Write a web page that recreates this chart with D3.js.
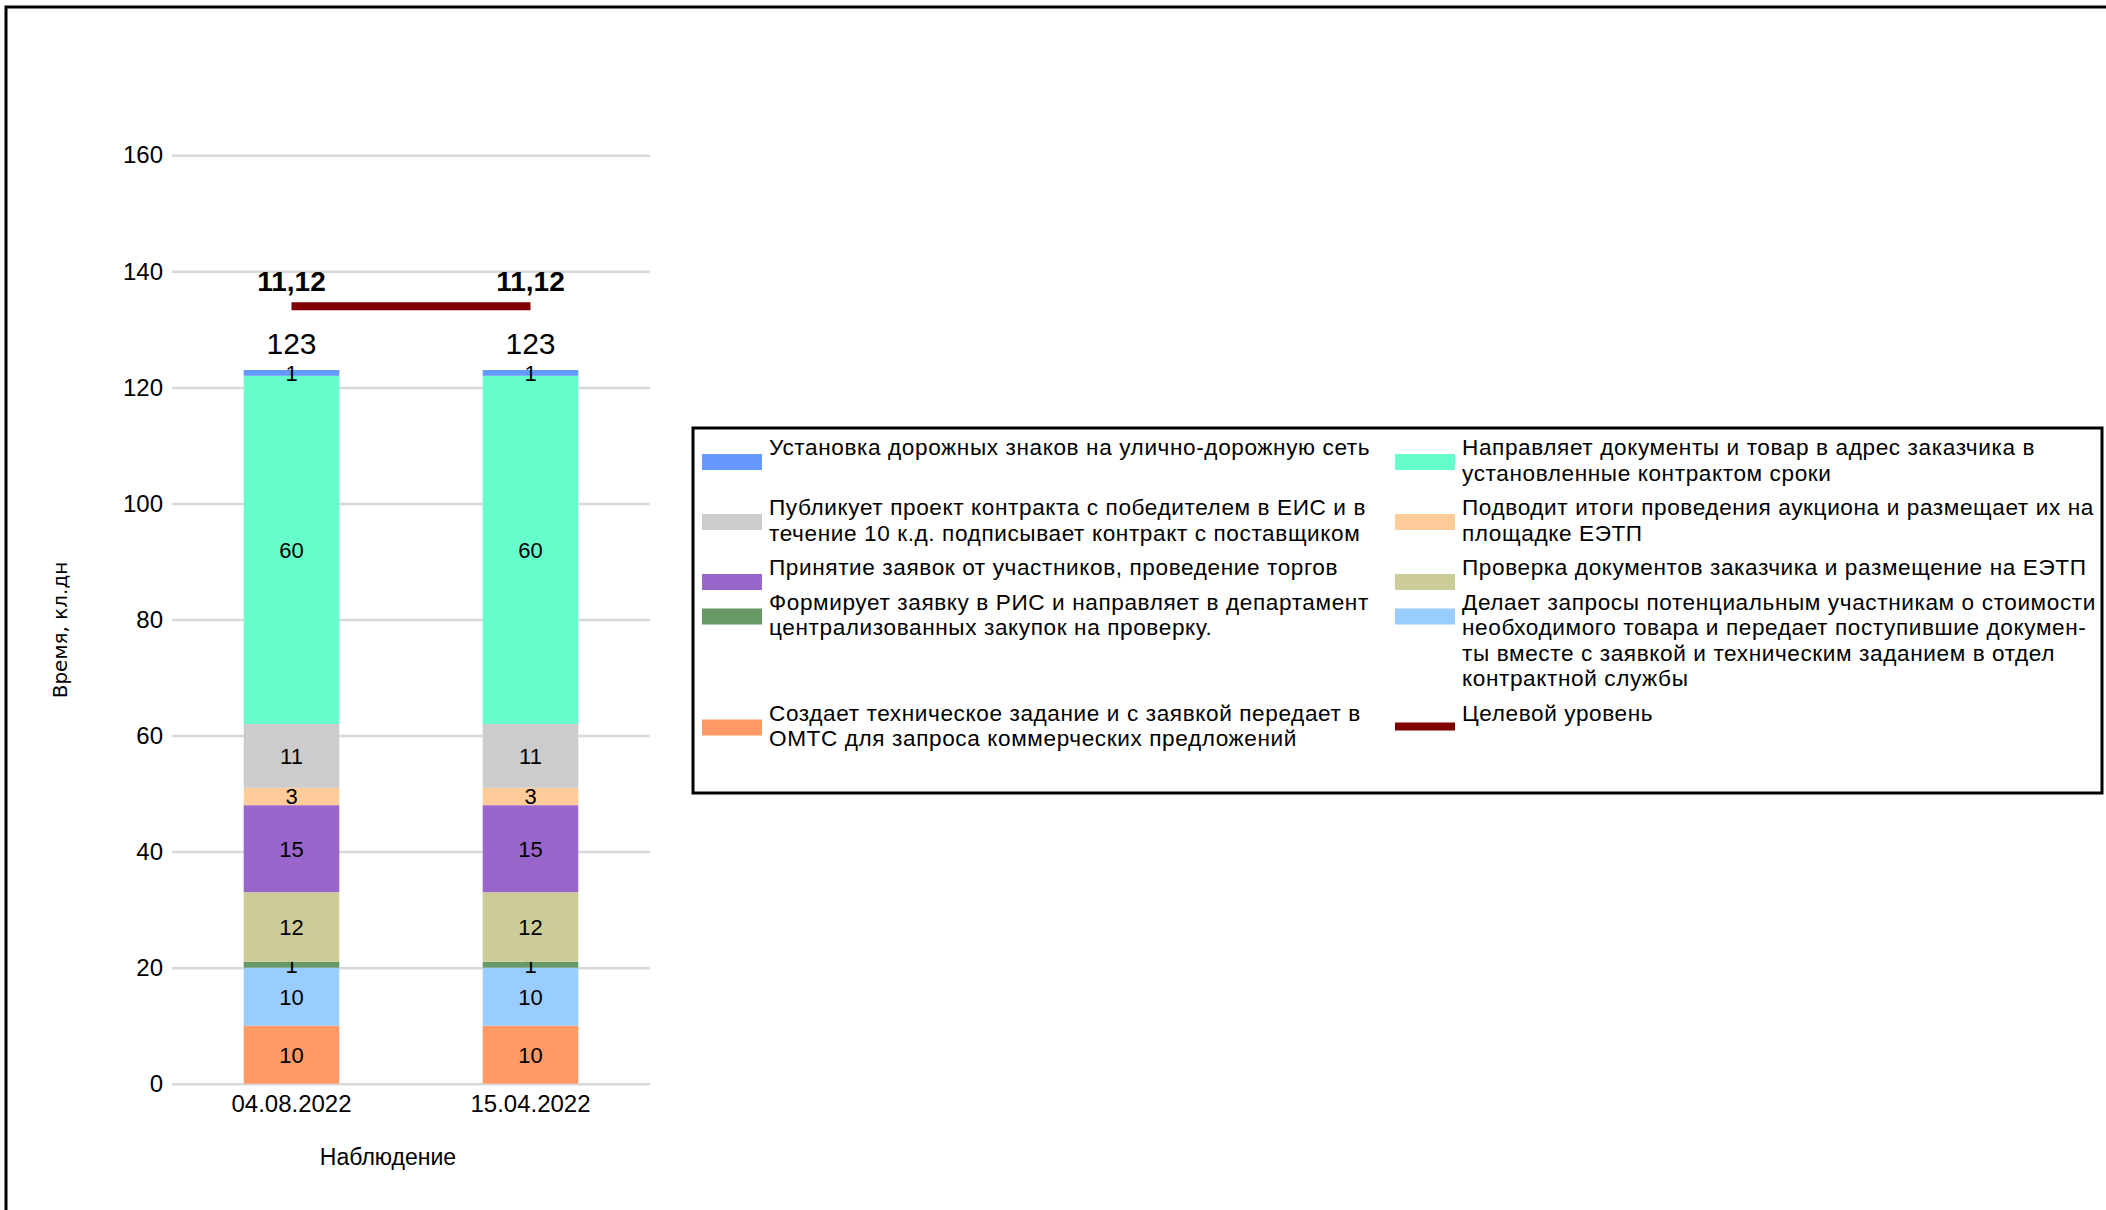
<!DOCTYPE html>
<html>
<head>
<meta charset="utf-8">
<script src="https://cdn.jsdelivr.net/npm/d3@7"></script>
<style>
  body { margin: 0; background: #fff; }
  text { font-family: 'Liberation Sans', Arial, sans-serif; fill: #000; }
</style>
</head>
<body>
<div id="chart"></div>
<script>
const w = 2106;
const h = 1210;

// data, bottom of the stack first
const categories = ["04.08.2022", "15.04.2022"];
const seriesNames = [
  "Создает техническое задание и с заявкой передает в\nОМТС для запроса коммерческих предложений",
  "Делает запросы потенциальным участникам о стоимости\nнеобходимого товара и передает поступившие докумен-\nты вместе с заявкой и техническим заданием в отдел\nконтрактной службы",
  "Формирует заявку в РИС и направляет в департамент\nцентрализованных закупок на проверку.",
  "Проверка документов заказчика и размещение на ЕЭТП",
  "Принятие заявок от участников, проведение торгов",
  "Подводит итоги проведения аукциона и размещает их на\nплощадке ЕЭТП",
  "Публикует проект контракта с победителем в ЕИС и в\nтечение 10 к.д. подписывает контракт с поставщиком",
  "Направляет документы и товар в адрес заказчика в\nустановленные контрактом сроки",
  "Установка дорожных знаков на улично-дорожную сеть"
];
const seriesValues = [
  [10, 10],
  [10, 10],
  [1, 1],
  [12, 12],
  [15, 15],
  [3, 3],
  [11, 11],
  [60, 60],
  [1, 1]
];
const seriesColors = ["#ff9966", "#99ccff", "#669966", "#cccc99", "#9966cc", "#ffcc99", "#cccccc", "#66ffcc", "#6699ff"];
const targetName = "Целевой уровень";
const targetValues = [134, 134];
const targetLabels = ["11,12", "11,12"];
const yTicks = [0, 20, 40, 60, 80, 100, 120, 140, 160];
const xTitle = "Наблюдение";
const yTitle = "Время, кл.дн";

const plot = { left: 172, right: 650, top: 155.3, bottom: 1083.7 };
const font = "'Liberation Sans', Arial, sans-serif";

const svg = d3.select("#chart")
  .append("svg")
  .attr("width", w)
  .attr("height", h);

// outer frame (runs off the right and bottom edges)
svg.append("rect")
  .attr("x", 6).attr("y", 7)
  .attr("width", w + 50).attr("height", h + 50)
  .attr("fill", "none")
  .attr("stroke", "#000")
  .attr("stroke-width", 3);

const xScale = d3.scaleBand()
  .domain(categories)
  .range([plot.left, plot.right])
  .paddingInner(0.6)
  .paddingOuter(0.3);

const yScale = d3.scaleLinear()
  .domain([0, 160])
  .range([plot.bottom, plot.top]);

// y axis with gridlines
const yAxis = d3.axisLeft(yScale)
  .tickValues(yTicks)
  .tickSize(-(plot.right - plot.left))
  .tickPadding(9);

const yg = svg.append("g")
  .attr("transform", "translate(" + plot.left + ",0)")
  .call(yAxis);
yg.select(".domain").remove();
yg.selectAll(".tick line").attr("stroke", "#d9d9d9").attr("stroke-width", 2.5);
yg.selectAll(".tick text")
  .attr("font-family", font)
  .attr("font-size", 24)
  .attr("fill", "#000");

// x axis labels
const xAxis = d3.axisBottom(xScale).tickSize(0).tickPadding(11);
const xg = svg.append("g")
  .attr("transform", "translate(0," + plot.bottom + ")")
  .call(xAxis);
xg.select(".domain").remove();
xg.selectAll(".tick text")
  .attr("font-family", font)
  .attr("font-size", 24)
  .attr("fill", "#000");

// stacked bars
const rows = categories.map((c, i) => ({ cat: c, values: seriesValues.map(s => s[i]) }));
const stack = d3.stack()
  .keys(d3.range(seriesNames.length))
  .value((d, k) => d.values[k]);
const layers = stack(rows);

const layer = svg.selectAll("g.layer")
  .data(layers)
  .enter()
  .append("g")
  .attr("class", "layer")
  .attr("fill", d => seriesColors[d.key]);

layer.selectAll("rect")
  .data(d => d)
  .enter()
  .append("rect")
  .attr("x", d => xScale(d.data.cat))
  .attr("width", xScale.bandwidth())
  .attr("y", d => yScale(d[1]))
  .attr("height", d => yScale(d[0]) - yScale(d[1]));

layer.selectAll("text")
  .data(d => d)
  .enter()
  .append("text")
  .attr("x", d => xScale(d.data.cat) + xScale.bandwidth() / 2)
  .attr("y", d => yScale((d[0] + d[1]) / 2))
  .attr("dy", "0.36em")
  .attr("text-anchor", "middle")
  .attr("font-size", 22)
  .text(d => d[1] - d[0]);

// totals
const totals = rows.map(r => d3.sum(r.values));
svg.selectAll("text.total")
  .data(rows)
  .enter()
  .append("text")
  .attr("class", "total")
  .attr("x", d => xScale(d.cat) + xScale.bandwidth() / 2)
  .attr("y", (d, i) => yScale(totals[i]) - 16)
  .attr("text-anchor", "middle")
  .attr("font-size", 30)
  .text((d, i) => totals[i]);

// target level
const lineGen = d3.line()
  .x((d, i) => xScale(categories[i]) + xScale.bandwidth() / 2)
  .y(d => yScale(d));

svg.append("path")
  .datum(targetValues)
  .attr("d", lineGen)
  .attr("fill", "none")
  .attr("stroke", "#800000")
  .attr("stroke-width", 8);

svg.selectAll("text.target")
  .data(targetValues)
  .enter()
  .append("text")
  .attr("class", "target")
  .attr("x", (d, i) => xScale(categories[i]) + xScale.bandwidth() / 2)
  .attr("y", d => yScale(d) - 15)
  .attr("text-anchor", "middle")
  .attr("font-size", 28)
  .attr("font-weight", "bold")
  .text((d, i) => targetLabels[i]);

// axis titles
svg.append("text")
  .attr("x", 388)
  .attr("y", 1165)
  .attr("text-anchor", "middle")
  .attr("font-size", 23)
  .text(xTitle);

svg.append("text")
  .attr("transform", "translate(67,630) rotate(-90)")
  .attr("text-anchor", "middle")
  .style("font-family", "'DejaVu Sans', sans-serif")
  .attr("font-size", 20)
  .text(yTitle);

// legend
const legendBox = { x: 693, y: 428, w: 1409, h: 365 };
svg.append("rect")
  .attr("x", legendBox.x).attr("y", legendBox.y)
  .attr("width", legendBox.w).attr("height", legendBox.h)
  .attr("fill", "#fff")
  .attr("stroke", "#000")
  .attr("stroke-width", 3);

const entries = d3.range(seriesNames.length).reverse()
  .map(k => ({ lines: seriesNames[k].split("\n"), color: seriesColors[k], type: "bar" }));
entries.push({ lines: [targetName], color: "#800000", type: "line" });

const legendFont = 22.6;
const lineH = 25.5;
const colX = [702, 1395];
let baseY = 455;
for (let r = 0; r < entries.length; r += 2) {
  const pair = entries.slice(r, r + 2);
  pair.forEach((e, c) => {
    const g = svg.append("g");
    if (e.type === "bar") {
      g.append("rect")
        .attr("x", colX[c]).attr("y", baseY - 1)
        .attr("width", 60).attr("height", 16)
        .attr("fill", e.color);
    } else {
      g.append("line")
        .attr("x1", colX[c]).attr("x2", colX[c] + 60)
        .attr("y1", baseY + 6).attr("y2", baseY + 6)
        .attr("stroke", e.color)
        .attr("stroke-width", 8);
    }
    e.lines.forEach((t, j) => {
      g.append("text")
        .attr("x", colX[c] + 67)
        .attr("y", baseY + j * lineH)
        .attr("font-size", legendFont)
        .attr("letter-spacing", 0.6)
        .text(t);
    });
  });
  const n = d3.max(pair, e => e.lines.length);
  baseY += n * lineH + 9;
}
</script>
</body>
</html>
